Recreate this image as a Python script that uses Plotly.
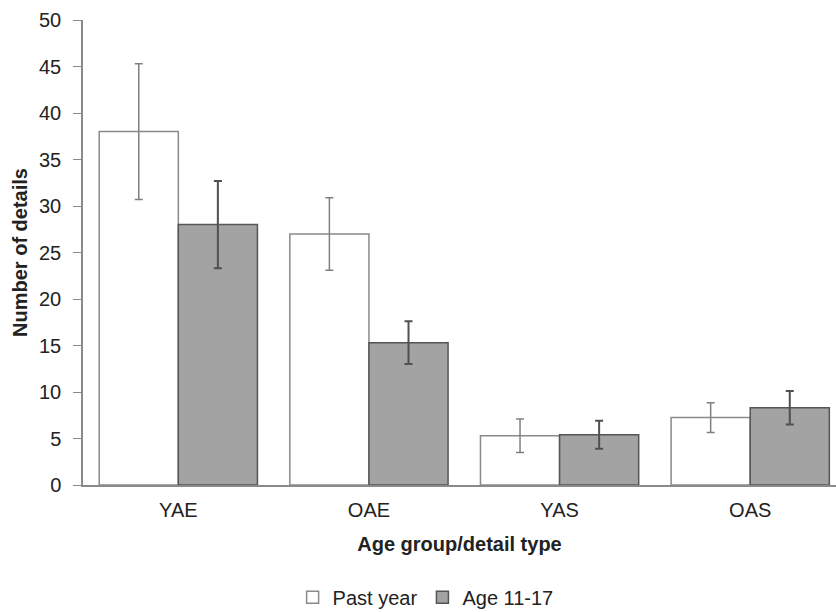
import plotly.graph_objects as go

categories = ["YAE", "OAE", "YAS", "OAS"]
past_year = [38.0, 27.0, 5.3, 7.25]
past_year_err = [7.3, 3.9, 1.8, 1.6]
age_11_17 = [28.0, 15.3, 5.4, 8.3]
age_11_17_err = [4.7, 2.3, 1.5, 1.8]
y_ticks = [0, 5, 10, 15, 20, 25, 30, 35, 40, 45, 50]

FONT = "Liberation Sans, Arial, sans-serif"
FS = 20

fig = go.Figure()
fig.add_trace(go.Bar(
    x=categories, y=past_year, name="Past year",
    marker=dict(color="white", line=dict(color="#8a8a8a", width=1.5)),
    error_y=dict(type="data", array=past_year_err, color="#808080", thickness=1.5, width=4),
))
fig.add_trace(go.Bar(
    x=categories, y=age_11_17, name="Age 11-17",
    marker=dict(color="#a3a3a3", line=dict(color="#555555", width=1.5)),
    error_y=dict(type="data", array=age_11_17_err, color="#505050", thickness=2, width=4),
))

fig.update_layout(
    width=836, height=612,
    margin=dict(l=83, r=0, t=20, b=127),
    paper_bgcolor="white", plot_bgcolor="white",
    font=dict(family=FONT, size=FS, color="#222222"),
    barmode="group", bargap=0.17, bargroupgap=0,
    showlegend=True,
    legend=dict(orientation="h", x=0.455, xanchor="center", yref="container",
                y=0.024, yanchor="middle",
                font=dict(size=FS, family=FONT), itemwidth=30, tracegroupgap=0,
                traceorder="normal"),
)
fig.update_yaxes(
    range=[0, 50], tickvals=y_ticks, showgrid=False, zeroline=False, automargin=False,
    showline=True, linecolor="#8a8a8a", linewidth=1.5,
    ticks="outside", ticklen=8, tickcolor="#8a8a8a", ticklabelstandoff=8,
    tickfont=dict(size=FS, family=FONT),
    title=dict(text="<b>Number of details</b>", font=dict(size=FS, family=FONT), standoff=6),
)
fig.update_xaxes(
    range=[-0.5, 3.45], showgrid=False, automargin=False,
    showline=True, linecolor="#8a8a8a", linewidth=1.5,
    ticks="", tickfont=dict(size=FS, family=FONT), ticklabelstandoff=6,
    title=dict(text="<b>Age group/detail type</b>", font=dict(size=FS, family=FONT), standoff=17),
)

fig.write_html("out.html")
